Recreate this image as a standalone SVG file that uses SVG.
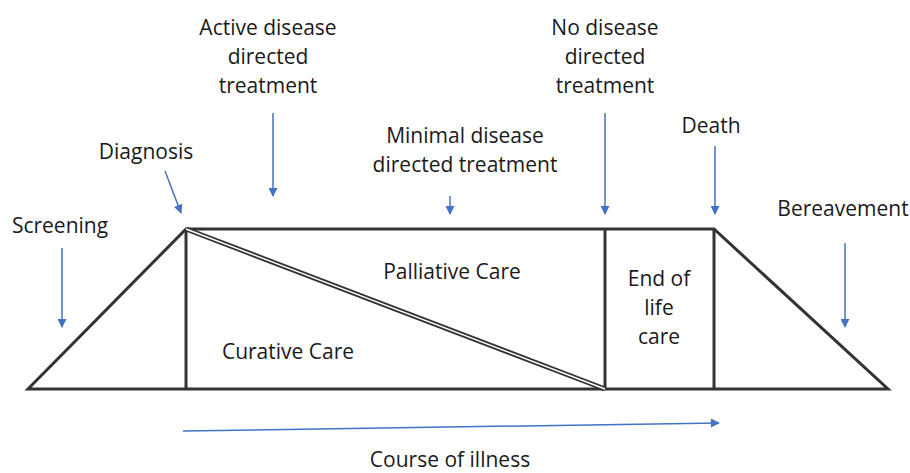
<svg xmlns="http://www.w3.org/2000/svg" width="910" height="473" viewBox="0 0 910 473">
<defs>
<marker id="ah" viewBox="0 0 10 10" refX="9" refY="5" markerWidth="7" markerHeight="6" orient="auto" markerUnits="strokeWidth">
<path d="M0,0 L10,5 L0,10 z" fill="#4472C4"/>
</marker>
<style>
.t{font-family:"Open Sans","Liberation Sans",sans-serif;font-size:21px;fill:#1a1a1a;text-anchor:middle}
.ln{stroke:#333;stroke-width:3;fill:none;stroke-linejoin:miter}
.ar{stroke:#4472C4;stroke-width:1.5;fill:none;marker-end:url(#ah)}
</style>
</defs>
<rect width="910" height="473" fill="#fff"/>
<g id="structure">
<path class="ln" d="M28,389 L186,229 L714,229 L888,389 Z"/>
<line class="ln" x1="186" y1="229" x2="186" y2="389"/>
<line class="ln" x1="605" y1="229" x2="605" y2="389"/>
<line class="ln" x1="714" y1="229" x2="714" y2="389"/>
<line x1="186" y1="229" x2="605" y2="389" stroke="#333" stroke-width="5"/>
<line x1="186" y1="229" x2="605" y2="389" stroke="#fff" stroke-width="1.5"/>
</g>
<g id="screening"><text class="t" x="60" y="233">Screening</text></g>
<g id="diagnosis"><text class="t" x="146" y="159">Diagnosis</text></g>
<g id="active"><text class="t" x="268" y="35">Active disease</text><text class="t" x="268" y="64">directed</text><text class="t" x="268" y="93">treatment</text></g>
<g id="minimal"><text class="t" x="465" y="143">Minimal disease</text><text class="t" x="465" y="172">directed treatment</text></g>
<g id="nodisease"><text class="t" x="605" y="35">No disease</text><text class="t" x="605" y="64">directed</text><text class="t" x="605" y="93">treatment</text></g>
<g id="death"><text class="t" x="711" y="133">Death</text></g>
<g id="bereavement"><text class="t" x="843" y="216">Bereavement</text></g>
<g id="palliative"><text class="t" x="452" y="279">Palliative Care</text></g>
<g id="curative"><text class="t" x="288" y="359">Curative Care</text></g>
<g id="endoflife"><text class="t" x="659" y="286">End of</text><text class="t" x="659" y="315">life</text><text class="t" x="659" y="344">care</text></g>
<g id="course"><text class="t" x="450" y="467">Course of illness</text></g>
<g id="connectors">
<line class="ar" x1="62" y1="248" x2="62" y2="327"/>
<line class="ar" x1="165" y1="171" x2="181" y2="213"/>
<line class="ar" x1="273" y1="113" x2="273" y2="196"/>
<line class="ar" x1="450" y1="196" x2="450" y2="214"/>
<line class="ar" x1="605" y1="113" x2="605" y2="214"/>
<line class="ar" x1="715" y1="146" x2="715" y2="214"/>
<line class="ar" x1="845" y1="243" x2="845" y2="327"/>
<line class="ar" x1="183" y1="431" x2="719" y2="423"/>
</g>
</svg>
